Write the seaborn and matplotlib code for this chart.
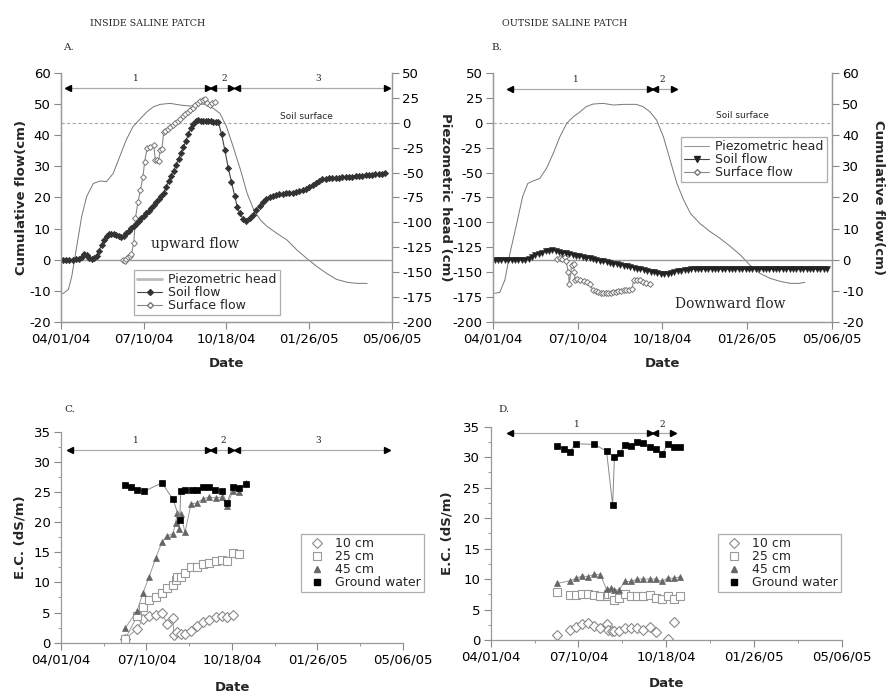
import numpy as np
import pandas as pd
import matplotlib
matplotlib.use("Agg")
import matplotlib.pyplot as plt
import seaborn as sns
from matplotlib.lines import Line2D
from matplotlib.ticker import MultipleLocator

sns.set_theme(style="ticks")
plt.rcParams["font.family"] = ["DejaVu Sans"]
plt.rcParams["axes.unicode_minus"] = False

# ---------------- data (x = days since 04/01/04) ----------------
date_ticks = [0, 100, 200, 300, 400]
date_labels = ["04/01/04", "07/10/04", "10/18/04", "01/26/05", "05/06/05"]

# Panel A (inside saline patch)
a_soil_days = [2, 6, 10, 14, 18, 22, 25, 28, 31, 34, 37, 40, 43, 46, 49, 52, 55, 58, 61, 64, 67, 70,
               73, 76, 79, 82, 85, 88, 91, 94, 97, 100, 103, 106, 109, 112, 115, 118, 121, 124, 127,
               130, 133, 136, 139, 142, 145, 148, 151, 154, 157, 160, 163, 166, 169, 172, 175, 178,
               181, 184, 187, 190, 194, 198, 202, 206, 210, 213, 216, 220, 224, 228, 232, 236, 240,
               244, 248, 252, 256, 260, 264, 268, 272, 276, 280, 284, 288, 292, 296, 300, 304, 308,
               312, 316, 320, 324, 328, 332, 336, 340, 344, 348, 352, 356, 360, 364, 368, 372, 376,
               380, 384, 388, 392]
a_soil_vals = [0.0, 0.0, 0.0, 0.1, 0.2, 0.4, 1.0, 2.0, 1.6, 0.6, 0.4, 0.6, 1.4, 3.0, 4.8, 6.5, 7.8,
               8.3, 8.3, 8.2, 8.0, 7.7, 7.4, 7.6, 8.6, 9.4, 10.3, 11.0, 11.6, 12.5, 13.4, 14.2, 15.0,
               15.8, 16.7, 17.6, 18.6, 19.6, 20.5, 21.3, 23.4, 25.3, 27.0, 28.6, 30.4, 32.3, 34.2,
               36.2, 38.2, 40.4, 42.2, 43.6, 44.6, 44.8, 44.6, 44.5, 44.5, 44.4, 44.4, 44.3, 44.3,
               44.2, 40.4, 35.2, 29.6, 25.0, 20.4, 17.0, 14.9, 13.2, 12.6, 13.3, 14.4, 15.9, 17.4,
               18.5, 19.4, 20.1, 20.6, 20.9, 21.1, 21.2, 21.3, 21.4, 21.5, 21.7, 22.0, 22.3, 22.8,
               23.4, 24.1, 24.8, 25.4, 25.8, 26.0, 26.1, 26.2, 26.3, 26.4, 26.5, 26.6, 26.6, 26.7,
               26.8, 26.9, 27.0, 27.1, 27.2, 27.3, 27.4, 27.5, 27.6, 27.7]
a_surf_days = [75, 77, 79, 81, 83, 85, 88, 90, 93, 96, 99, 101, 104, 108, 112, 114, 116, 118, 120,
               122, 124, 126, 129, 132, 135, 138, 141, 144, 147, 150, 153, 156, 159, 162, 165, 168,
               171, 174, 177, 180, 183, 186]
a_surf_vals = [0.0, -0.2, 0.2, 0.8, 1.2, 1.8, 5.5, 13.5, 18.5, 22.4, 26.7, 31.3, 35.8, 36.1, 36.9,
               32.1, 32.0, 31.8, 35.3, 35.5, 40.9, 41.2, 41.8, 42.5, 43.2, 43.9, 44.6, 45.3, 46.0,
               46.7, 47.4, 48.1, 48.8, 49.5, 50.2, 50.8, 51.4, 51.7, 50.3, 49.8, 50.3, 50.6]
a_piezo_days = [0, 3, 9, 13, 19, 25, 31, 39, 47, 55, 63, 71, 79, 87, 96, 104, 112, 120, 132, 144,
                156, 168, 176, 184, 192, 200, 208, 217, 225, 233, 241, 249, 261, 273, 285, 297, 309,
                321, 333, 346, 358, 370]
a_piezo_vals = [-171, -171, -167, -154, -124, -94, -74, -61, -58.5, -59, -51, -34, -17, -4, 4, 11,
                16, 18.3, 19.3, 17.6, 16.6, 18.6, 18.3, 14.3, 9.3, -4, -24, -47.5, -71, -87.5, -97.5,
                -104, -111, -117.5, -127.5, -136, -144, -151, -157, -160, -161, -161]

# Panel B (outside saline patch)
b_soil_days = [2, 6, 10, 14, 18, 22, 26, 30, 34, 38, 42, 46, 50, 54, 58, 62, 66, 70, 74, 78, 82, 86,
               90, 94, 98, 102, 106, 110, 114, 118, 122, 126, 130, 134, 138, 142, 146, 150, 154, 158,
               162, 166, 170, 174, 178, 182, 186, 190, 194, 198, 202, 206, 210, 214, 218, 222, 226,
               230, 234, 238, 242, 246, 250, 254, 258, 262, 266, 270, 274, 278, 282, 286, 290, 294,
               298, 302, 306, 310, 314, 318, 322, 326, 330, 334, 338, 342, 346, 350, 354, 358, 362,
               366, 370, 374, 378, 382, 386, 390, 394]
b_soil_vals = [0.0, 0.0, 0.0, 0.0, 0.0, 0.0, 0.0, 0.0, 0.0, 0.1, 0.4, 1.0, 1.5, 1.9, 2.3, 2.7, 3.0,
               3.1, 2.8, 2.5, 2.3, 2.1, 1.8, 1.6, 1.4, 1.2, 0.9, 0.7, 0.5, 0.2, 0.0, -0.2, -0.5, -0.7,
               -0.9, -1.2, -1.4, -1.6, -1.8, -2.1, -2.3, -2.5, -2.8, -3.0, -3.2, -3.5, -3.8, -4.0,
               -4.3, -4.5, -4.5, -4.4, -4.2, -3.9, -3.6, -3.4, -3.2, -3.1, -3.0, -3.0, -3.0, -3.0,
               -3.0, -3.0, -3.0, -3.0, -3.0, -3.0, -3.0, -3.0, -3.0, -3.0, -3.0, -3.0, -3.0, -3.0,
               -3.0, -3.0, -3.0, -3.0, -3.0, -3.0, -3.0, -3.0, -3.0, -3.0, -3.0, -3.0, -3.0, -3.0,
               -3.0, -3.0, -3.0, -3.0, -3.0, -3.0, -3.0, -3.0, -3.0]
b_surf_days = [75, 79, 82, 85, 86, 89, 90, 93, 95, 96, 97, 99, 103, 107, 111, 114, 118, 121, 124,
               127, 130, 133, 136, 139, 142, 145, 148, 151, 154, 157, 160, 164, 166, 170, 173, 177,
               181, 185]
b_surf_vals = [0.3, 0.6, 0.4, 1.0, -0.2, -4.0, -7.7, -1.5, -1.3, -4.0, -6.4, -6.1, -6.6, -6.9, -7.2,
               -7.7, -9.8, -10.1, -10.4, -10.5, -10.7, -10.7, -10.6, -10.5, -10.4, -10.2, -10.0,
               -9.9, -9.8, -9.7, -9.6, -9.3, -6.6, -6.4, -6.6, -7.2, -7.5, -7.7]
b_piezo_days = [2, 8, 14, 20, 28, 35, 41, 47, 55, 63, 71, 79, 87, 95, 102, 110, 118, 130, 142, 154,
                169, 177, 185, 193, 201, 209, 217, 225, 233, 244, 256, 268, 280, 292, 303, 315, 327,
                339, 351, 361, 368]
b_piezo_vals = [-171, -170, -157.6, -131, -101, -74, -61, -58.5, -56, -46, -31, -14, -0.7, 6, 10.3,
                16, 18.6, 19.3, 17.6, 18.3, 18.3, 16, 11, 2.6, -14, -37.5, -61, -77.5, -91, -101,
                -109, -116, -124, -132.6, -142.6, -151, -156, -159, -161, -161, -160]

# Panel C (E.C. inside)
c_gw_days = [75, 82, 89, 97, 118, 131, 139, 140, 145, 153, 159, 166, 173, 180, 188, 194, 201, 208, 216]
c_gw_vals = [26.2, 25.9, 25.4, 25.1, 26.5, 23.8, 20.4, 25.1, 25.3, 25.4, 25.4, 25.9, 25.8, 25.3,
             25.1, 23.1, 25.9, 25.7, 26.4]
c_45_days = [75, 89, 96, 103, 111, 118, 124, 131, 134, 136, 138, 140, 145, 152, 159, 166, 173, 181,
             188, 194, 201, 208, 216]
c_45_vals = [2.4, 5.3, 8.3, 10.9, 14.1, 16.7, 17.7, 18.1, 19.9, 21.5, 18.8, 21.3, 18.3, 23.0, 23.2,
             23.8, 24.2, 24.0, 24.2, 22.7, 25.2, 25.0, 26.5]
c_25_days = [75, 89, 96, 103, 111, 118, 124, 131, 134, 136, 140, 145, 152, 159, 166, 173, 181, 188,
             194, 201, 208]
c_25_vals = [0.6, 4.4, 5.9, 7.1, 7.6, 8.3, 9.0, 9.6, 10.4, 10.9, 10.9, 11.6, 12.5, 12.6, 13.0, 13.3,
             13.6, 13.7, 13.6, 14.9, 14.7]
c_10_days = [75, 89, 96, 103, 111, 118, 124, 131, 132, 136, 140, 145, 152, 159, 166, 173, 181, 188,
             194, 201]
c_10_vals = [0.6, 2.3, 3.9, 4.4, 4.6, 5.0, 3.1, 4.1, 1.3, 1.7, 1.4, 1.4, 2.0, 2.7, 3.4, 3.8, 4.3,
             4.4, 4.2, 4.6]

# Panel D (E.C. outside)
d_gw_days = [76, 83, 90, 97, 118, 132, 139, 141, 147, 153, 160, 167, 174, 181, 188, 195, 202, 209, 216]
d_gw_vals = [31.9, 31.4, 30.9, 32.2, 32.1, 31.0, 22.1, 30.1, 30.7, 32.0, 31.8, 32.5, 32.3, 31.6,
             31.4, 30.5, 32.1, 31.6, 31.6]
d_45_days = [76, 90, 97, 104, 111, 118, 125, 132, 137, 141, 146, 153, 160, 167, 174, 181, 188, 195,
             202, 209, 216]
d_45_vals = [9.3, 9.7, 10.1, 10.5, 10.4, 10.8, 10.7, 8.3, 8.5, 8.2, 8.2, 9.6, 9.6, 10.0, 10.0, 10.0,
             10.0, 9.6, 10.2, 10.1, 10.4]
d_25_days = [76, 90, 97, 104, 111, 118, 125, 132, 134, 138, 141, 146, 153, 160, 167, 174, 181, 188,
             195, 202, 209, 216]
d_25_vals = [7.8, 7.4, 7.4, 7.5, 7.5, 7.4, 7.3, 7.2, 7.5, 7.5, 6.6, 6.9, 7.5, 7.2, 7.2, 7.2, 7.4,
             6.9, 6.7, 7.2, 6.8, 7.2]
d_10_days = [76, 90, 97, 104, 111, 118, 125, 132, 134, 138, 141, 146, 153, 160, 167, 174, 181, 188,
             202, 209]
d_10_vals = [0.9, 1.6, 2.2, 2.7, 2.8, 2.3, 2.0, 2.6, 1.7, 1.5, 1.5, 1.4, 1.9, 2.0, 2.0, 1.6, 2.1,
             1.3, 0.2, 3.0]

# period arrows: (start, end, label_x, label)
a_periods = [(9, 178, 91, "1"), (184, 205, 197, "2"), (213, 394, 311, "3")]
b_periods = [(20, 185, 98, "1"), (191, 213, 200, "2")]
c_periods = [(10, 172, 88, "1"), (178, 199, 190, "2"), (206, 381, 301, "3")]
d_periods = [(22, 182, 98, "1"), (187, 208, 196, "2")]

# ---------------- drawing ----------------
W, H = 887, 693
fig = plt.figure(figsize=(W / 100, H / 100), dpi=100)


def px_axes(l, t, r, b):
    return fig.add_axes([l / W, 1 - b / H, (r - l) / W, (b - t) / H])


SPINE = "#999999"
TICKC = "#888888"
TICK_FS = 9.5


def style_axis(ax, sides):
    for s in ["top", "bottom", "left", "right"]:
        ax.spines[s].set_visible(s in sides)
        ax.spines[s].set_color(SPINE)
        ax.spines[s].set_linewidth(0.9)
    ax.tick_params(colors=TICKC, labelcolor="black", labelsize=TICK_FS, length=5, width=0.8,
                   pad=2.5)
    ax.tick_params(which="minor", colors=TICKC, length=2.5, width=0.6)


def series(ax, x, y, **kw):
    sns.lineplot(x=x, y=y, ax=ax, estimator=None, sort=False, legend=False, **kw)


def periods(ax, spans, y, ylab):
    for s, e, lx, lab in spans:
        ax.plot([s, e], [y, y], color="#aaaaaa", lw=0.9, clip_on=False, zorder=5)
        ax.plot([s], [y], marker="<", color="black", ms=5, clip_on=False, zorder=6)
        ax.plot([e], [y], marker=">", color="black", ms=5, clip_on=False, zorder=6)
        ax.text(lx, ylab, lab, ha="center", va="center", fontsize=6.5,
                family="DejaVu Serif", clip_on=False)


def date_axis(ax):
    ax.set_xlim(0, 400)
    ax.set_xticks(date_ticks)
    ax.set_xticklabels(date_labels)
    ax.set_xlabel("Date", fontsize=9.5, fontweight="bold")


def legend(ax, handles, labels, x, y):
    lg = ax.legend(handles, labels, loc="upper left", bbox_to_anchor=(x, y), fontsize=9,
                   frameon=True, fancybox=False, borderpad=0.25, labelspacing=0.0,
                   handlelength=2.0, handletextpad=0.5, borderaxespad=0)
    lg.get_frame().set_edgecolor("#999999")
    lg.get_frame().set_linewidth(0.9)
    return lg


# ===== Panel A =====
axA = px_axes(61, 72.7, 392, 322.3)
axA2 = axA.twinx()
axA.set_ylim(-20, 60)
axA.yaxis.set_major_locator(MultipleLocator(10))
axA2.set_ylim(-200, 50)
axA2.yaxis.set_major_locator(MultipleLocator(25))
date_axis(axA)
style_axis(axA, ["left", "bottom", "right"])
style_axis(axA2, ["left", "bottom", "right"])
axA.axhline(0, color="#999999", lw=1.0, zorder=1)
axA2.axhline(0, color="#aaaaaa", lw=0.8, ls=(0, (3, 2)), zorder=1)
series(axA2, a_piezo_days, a_piezo_vals, color="#777777", linewidth=0.7)
series(axA, a_surf_days, a_surf_vals, color="#888888", linewidth=0.8, marker="D", markersize=3,
       markerfacecolor="white", markeredgecolor="#777777", markeredgewidth=0.7)
series(axA, a_soil_days, a_soil_vals, color="#444444", linewidth=0.8, marker="D", markersize=3.2,
       markerfacecolor="#333333", markeredgecolor="#333333", markeredgewidth=0.5)
axA.set_zorder(axA2.get_zorder() + 1)
axA.patch.set_visible(False)
axA.set_ylabel("Cumulative flow(cm)", fontsize=9.5, fontweight="bold")
axA.yaxis.set_label_coords(-0.101, 0.5)
axA2.set_ylabel("")
axA.xaxis.set_label_coords(0.5, -0.139)
periods(axA, a_periods, 55.2, 58.0)
axA.text(0.74, 0.825, "Soil surface", transform=axA.transAxes, ha="center", va="center",
         fontsize=6.5)
axA.text(0.405, 0.315, "upward flow", transform=axA.transAxes, ha="center", va="center",
         fontsize=10, family="DejaVu Serif")
hA = [Line2D([], [], color="#bbbbbb", lw=2),
      Line2D([], [], color="#444444", lw=0.8, marker="D", ms=3, mfc="#333333", mec="#333333"),
      Line2D([], [], color="#888888", lw=0.8, marker="D", ms=3, mfc="white", mec="#777777")]
legend(axA, hA, ["Piezometric head", "Soil flow", "Surface flow"], 0.2205, 0.2095)

# ===== Panel B =====
axB = px_axes(493, 72.7, 832, 322.3)
axB2 = axB.twinx()
axB.set_ylim(-200, 50)
axB.yaxis.set_major_locator(MultipleLocator(25))
axB2.set_ylim(-20, 60)
axB2.yaxis.set_major_locator(MultipleLocator(10))
date_axis(axB)
style_axis(axB, ["left", "bottom", "right"])
style_axis(axB2, ["left", "bottom", "right"])
axB2.axhline(0, color="#999999", lw=1.0, zorder=1)
axB.axhline(0, color="#aaaaaa", lw=0.8, ls=(0, (3, 2)), zorder=1)
series(axB, b_piezo_days, b_piezo_vals, color="#777777", linewidth=0.7)
series(axB2, b_surf_days, b_surf_vals, color="#888888", linewidth=0.8, marker="D", markersize=3,
       markerfacecolor="white", markeredgecolor="#777777", markeredgewidth=0.7)
series(axB2, b_soil_days, b_soil_vals, color="#444444", linewidth=0.8, marker="v", markersize=3.8,
       markerfacecolor="#222222", markeredgecolor="#222222", markeredgewidth=0.4)
axB.set_ylabel("Piezometric head (cm)", fontsize=9.5, fontweight="bold", rotation=270,
               va="center")
axB.yaxis.set_label_coords(-0.139, 0.5)
axB2.set_ylabel("Cumulative flow(cm)", fontsize=9.5, fontweight="bold", rotation=270,
                va="center")
axB2.yaxis.set_label_coords(1.136, 0.5)
axB.xaxis.set_label_coords(0.5, -0.139)
periods(axB, b_periods, 33.6, 43.3)
axB.text(0.735, 0.83, "Soil surface", transform=axB.transAxes, ha="center", va="center",
         fontsize=6.5)
axB.text(0.70, 0.075, "Downward flow", transform=axB.transAxes, ha="center", va="center",
         fontsize=10, family="DejaVu Serif")
hB = [Line2D([], [], color="#999999", lw=0.8),
      Line2D([], [], color="#444444", lw=0.8, marker="v", ms=3.8, mfc="#222222", mec="#222222"),
      Line2D([], [], color="#888888", lw=0.8, marker="D", ms=3, mfc="white", mec="#777777")]
legend(axB2, hB, ["Piezometric head", "Soil flow", "Surface flow"], 0.5546, 0.7424)


# ===== Panels C & D =====
def ec_panel(ax, gw, g45, g25, g10, lines_shallow, per, yarr, ylab, lgpos, ylx, xly):
    ax.set_ylim(0, 35)
    ax.yaxis.set_major_locator(MultipleLocator(5))
    ax.yaxis.set_minor_locator(MultipleLocator(2.5))
    ax.xaxis.set_minor_locator(MultipleLocator(50))
    date_axis(ax)
    style_axis(ax, ["left", "bottom"])
    ls_sh = "-" if lines_shallow else ""
    series(ax, g10[0], g10[1], color="#999999", linewidth=0.7, linestyle=ls_sh, marker="D",
           markersize=5, markerfacecolor="white", markeredgecolor="#888888", markeredgewidth=0.8)
    series(ax, g25[0], g25[1], color="#999999", linewidth=0.7, linestyle=ls_sh, marker="s",
           markersize=5.5, markerfacecolor="white", markeredgecolor="#999999", markeredgewidth=0.8)
    series(ax, g45[0], g45[1], color="#999999", linewidth=0.7, marker="^", markersize=5,
           markerfacecolor="#666666", markeredgecolor="#666666", markeredgewidth=0.5)
    series(ax, gw[0], gw[1], color="#888888", linewidth=0.7, marker="s", markersize=5,
           markerfacecolor="black", markeredgecolor="black", markeredgewidth=0.5)
    ax.set_ylabel("E.C. (dS/m)", fontsize=9.5, fontweight="bold")
    ax.yaxis.set_label_coords(ylx, 0.5)
    ax.xaxis.set_label_coords(0.5, xly)
    periods(ax, per, yarr, ylab)
    h = [Line2D([], [], ls="", marker="D", ms=5, mfc="white", mec="#888888", mew=0.8),
         Line2D([], [], ls="", marker="s", ms=5.5, mfc="white", mec="#999999", mew=0.8),
         Line2D([], [], ls="", marker="^", ms=5, mfc="#666666", mec="#666666"),
         Line2D([], [], ls="", marker="s", ms=5, mfc="black", mec="black")]
    legend(ax, h, ["10 cm", "25 cm", "45 cm", "Ground water"], *lgpos)
    return ax


axC = px_axes(61, 431.7, 403, 642.7)
ec_panel(axC, (c_gw_days, c_gw_vals), (c_45_days, c_45_vals), (c_25_days, c_25_vals),
         (c_10_days, c_10_vals), True, c_periods, 32.0, 33.6, (0.7018, 0.515), -0.101, -0.183)
axD = px_axes(490.7, 426.7, 841.7, 640)
ec_panel(axD, (d_gw_days, d_gw_vals), (d_45_days, d_45_vals), (d_25_days, d_25_vals),
         (d_10_days, d_10_vals), False, d_periods, 33.9, 35.4, (0.6476, 0.497), -0.107, -0.173)

# ===== titles & panel letters =====
fig.text(148 / W, 1 - 23 / H, "INSIDE SALINE PATCH", ha="center", va="center", fontsize=6.8,
         family="DejaVu Serif")
fig.text(565 / W, 1 - 23 / H, "OUTSIDE SALINE PATCH", ha="center", va="center", fontsize=6.8,
         family="DejaVu Serif")
for lx, ly, t in [(63, 48, "A."), (491, 48, "B."), (64, 410, "C."), (498, 410, "D.")]:
    fig.text(lx / W, 1 - ly / H, t, ha="left", va="center", fontsize=7.5, family="DejaVu Serif")

fig.savefig("out.png", dpi=100)
